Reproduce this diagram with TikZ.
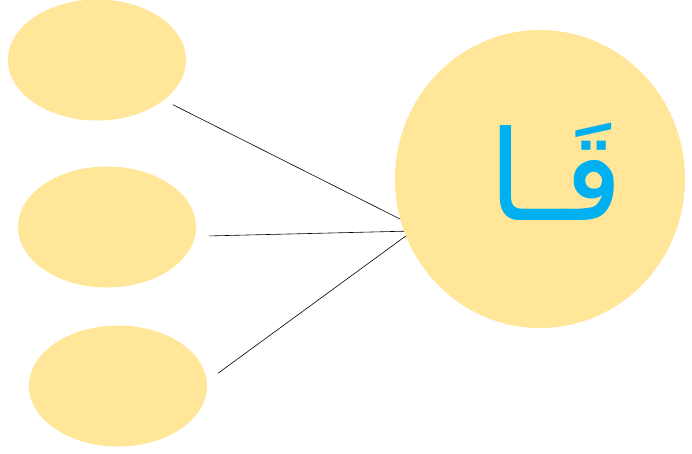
\documentclass[tikz,border=0pt]{standalone}
\usepackage{fontspec}
\usepackage{xcolor}
\usepackage{tikz}
\usetikzlibrary{positioning, shapes.geometric}
\TeXXeTstate=1
\newfontfamily\arabicfont[Script=Arabic]{DejaVu Sans}
\definecolor{Y1}{HTML}{FFE699}
\definecolor{C1}{HTML}{00B0F0}

\begin{document}
\begin{tikzpicture}[
	x=1pt, y=-1pt,
	node distance = 1cm, on grid,
	leaf/.style = {ellipse, fill=Y1, draw=none, inner sep=0pt, minimum width=178pt, minimum height=121pt},
	root/.style = {ellipse, fill=Y1, draw=none, inner sep=0pt, minimum width=290pt, minimum height=298pt},
	letter/.style = {color=C1, font=\arabicfont\fontsize{125}{125}\selectfont, inner sep=0pt},
  every edge/.style={draw, line width=0.6pt}
]
  \useasboundingbox (0, 0) rectangle (692, 453);
  % Define vertices
  \node[leaf] at (97, 60) (top) {};
  \node[leaf] at (107, 227) (mid) {};
  \node[leaf] at (118, 386) (bot) {};
  \node[root] at (540, 179) (qa) {};
  \node[letter] at (556, 172) (word) {\beginR قَـا\endR};

  \draw[shorten <=10pt] (top.-31) edge (qa.196);
  \draw[shorten <=14pt] (mid.-6) edge (qa.201);
  \draw[shorten <=14pt] (bot.3) edge (qa.203);
\end{tikzpicture}
\end{document}
